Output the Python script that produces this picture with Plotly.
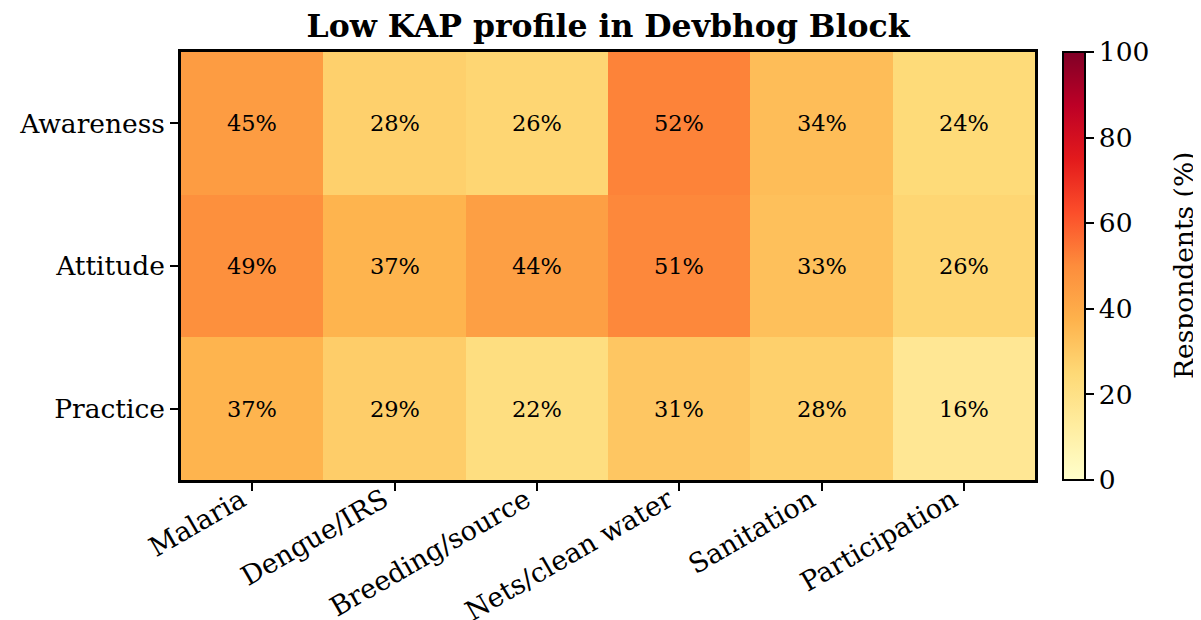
import plotly.graph_objects as go

topics = ["Malaria", "Dengue/IRS", "Breeding/source", "Nets/clean water", "Sanitation", "Participation"]
domains = ["Awareness", "Attitude", "Practice"]
awareness = [45, 28, 26, 52, 34, 24]
attitude = [49, 37, 44, 51, 33, 26]
practice = [37, 29, 22, 31, 28, 16]
z = [awareness, attitude, practice]

FONT = "DejaVu Serif"
W, H = 1193, 612          # page body has an 8px margin
L, R, T, B = 173, 166, 44, 140
PW = W - L - R

fig = go.Figure(go.Heatmap(
    z=z, x=topics, y=domains,
    colorscale="YlOrRd", zmin=0, zmax=100,
    texttemplate="%{z}%", textfont=dict(family=FONT, size=22.5, color="black"),
    xgap=0, ygap=0,
    colorbar=dict(
        x=(1055 - L) / PW, xanchor="left", xpad=0, y=0, yanchor="bottom", ypad=0,
        len=1.0, lenmode="fraction", thickness=22,
        outlinecolor="black", outlinewidth=2,
        tickvals=[0, 20, 40, 60, 80, 100], ticks="outside", ticklen=8, tickwidth=1.8,
        tickcolor="black", tickprefix=" ",
        tickfont=dict(family=FONT, size=26.5, color="black"),
    ),
))

fig.add_annotation(
    text="Respondents (%)", textangle=-90, xref="paper", yref="paper",
    x=(1175 - L) / PW, y=0.5, xanchor="center", yanchor="middle", showarrow=False,
    font=dict(family=FONT, size=26.5, color="black"),
)

fig.update_layout(
    width=W, height=H,
    margin=dict(l=L, r=R, t=T, b=B),
    paper_bgcolor="white", plot_bgcolor="white",
    title=dict(text="<b>Low KAP profile in Devbhog Block</b>", x=0.5, xref="paper", y=1 - 18 / H, yanchor="middle",
               font=dict(family=FONT, size=31.5, color="black")),
    font=dict(family=FONT, color="black"),
)
fig.update_xaxes(showline=True, mirror=True, linecolor="black", linewidth=2.5, automargin=False,
                 ticks="outside", ticklen=8, tickwidth=1.8, tickcolor="black",
                 ticklabelstandoff=-17, ticklabelshift=-11,
                 tickangle=-30, tickfont=dict(family=FONT, size=27, color="black"))
fig.update_yaxes(showline=True, mirror=True, linecolor="black", linewidth=2.5, automargin=False,
                 ticks="outside", ticklen=8, tickwidth=1.8, tickcolor="black",
                 autorange="reversed", tickfont=dict(family=FONT, size=26.5, color="black"))

fig.write_html("out.html")
